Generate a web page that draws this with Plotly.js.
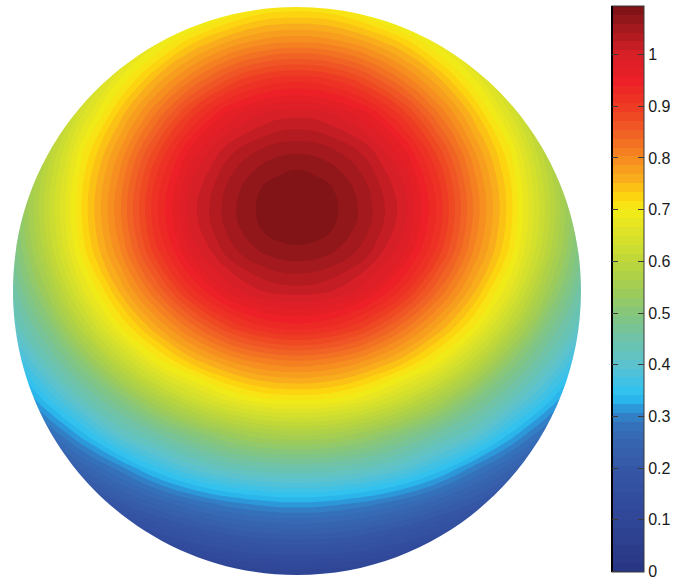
<!DOCTYPE html>
<html>
<head>
<meta charset="utf-8">
<script src="https://cdn.plot.ly/plotly-3.0.1.min.js"></script>
<style>
  html, body { margin: 0; padding: 0; background: #ffffff; }
  #chart { width: 682px; height: 581px; }
</style>
</head>
<body>
<div id="chart"></div>
<script>
// Sample grid on the unit disc (x to the right, y upwards), denser around the maximum.
const gridX = [-1, -0.875, -0.75, -0.625, -0.5, -0.375, -0.25, -0.1875, -0.125, -0.0625, 0,
               0.0625, 0.125, 0.1875, 0.25, 0.375, 0.5, 0.625, 0.75, 0.875, 1];
const gridY = [-1, -0.875, -0.75, -0.625, -0.5, -0.375, -0.25, -0.125, 0, 0.125,
               0.1875, 0.25, 0.3125, 0.375, 0.4375, 0.5, 0.625, 0.75, 0.875, 1];

// Field values, one row per gridY entry (bottom row first).
const fieldZ = [
  [0.000, 0.000, 0.000, 0.009, 0.031, 0.053, 0.070, 0.076, 0.079, 0.083, 0.084, 0.083, 0.079, 0.076, 0.070, 0.053, 0.031, 0.009, 0.000, 0.000, 0.000],
  [0.000, 0.016, 0.052, 0.091, 0.130, 0.162, 0.186, 0.195, 0.201, 0.204, 0.205, 0.204, 0.201, 0.195, 0.186, 0.162, 0.130, 0.091, 0.052, 0.016, 0.000],
  [0.040, 0.091, 0.148, 0.200, 0.239, 0.272, 0.297, 0.305, 0.312, 0.317, 0.318, 0.317, 0.312, 0.305, 0.297, 0.272, 0.239, 0.200, 0.148, 0.091, 0.040],
  [0.117, 0.187, 0.245, 0.298, 0.352, 0.395, 0.423, 0.432, 0.438, 0.442, 0.443, 0.442, 0.438, 0.432, 0.423, 0.395, 0.352, 0.298, 0.245, 0.187, 0.117],
  [0.204, 0.271, 0.342, 0.411, 0.457, 0.501, 0.539, 0.553, 0.564, 0.570, 0.572, 0.570, 0.564, 0.553, 0.539, 0.501, 0.457, 0.411, 0.342, 0.271, 0.204],
  [0.275, 0.360, 0.435, 0.499, 0.570, 0.630, 0.676, 0.692, 0.703, 0.709, 0.710, 0.709, 0.703, 0.692, 0.676, 0.630, 0.570, 0.499, 0.435, 0.360, 0.275],
  [0.347, 0.435, 0.513, 0.604, 0.686, 0.739, 0.780, 0.796, 0.807, 0.814, 0.817, 0.814, 0.807, 0.796, 0.780, 0.739, 0.686, 0.604, 0.513, 0.435, 0.347],
  [0.411, 0.495, 0.599, 0.698, 0.765, 0.829, 0.886, 0.906, 0.921, 0.930, 0.933, 0.930, 0.921, 0.906, 0.886, 0.829, 0.765, 0.698, 0.599, 0.495, 0.411],
  [0.449, 0.553, 0.666, 0.754, 0.835, 0.916, 0.975, 0.995, 1.008, 1.016, 1.018, 1.016, 1.008, 0.995, 0.975, 0.916, 0.835, 0.754, 0.666, 0.553, 0.449],
  [0.479, 0.594, 0.709, 0.796, 0.891, 0.973, 1.026, 1.044, 1.057, 1.065, 1.068, 1.065, 1.057, 1.044, 1.026, 0.973, 0.891, 0.796, 0.709, 0.594, 0.479],
  [0.488, 0.606, 0.719, 0.808, 0.907, 0.989, 1.040, 1.058, 1.074, 1.080, 1.083, 1.080, 1.074, 1.058, 1.040, 0.989, 0.907, 0.808, 0.719, 0.606, 0.488],
  [0.492, 0.612, 0.724, 0.815, 0.915, 0.998, 1.048, 1.067, 1.080, 1.089, 1.091, 1.089, 1.080, 1.067, 1.048, 0.998, 0.915, 0.815, 0.724, 0.612, 0.492],
  [0.493, 0.613, 0.725, 0.816, 0.916, 0.999, 1.048, 1.067, 1.081, 1.089, 1.092, 1.089, 1.081, 1.067, 1.048, 0.999, 0.916, 0.816, 0.725, 0.613, 0.493],
  [0.489, 0.608, 0.721, 0.810, 0.909, 0.992, 1.042, 1.061, 1.076, 1.083, 1.086, 1.083, 1.076, 1.061, 1.042, 0.992, 0.909, 0.810, 0.721, 0.608, 0.489],
  [0.482, 0.598, 0.712, 0.800, 0.896, 0.978, 1.031, 1.049, 1.062, 1.071, 1.075, 1.071, 1.062, 1.049, 1.031, 0.978, 0.896, 0.800, 0.712, 0.598, 0.482],
  [0.471, 0.583, 0.700, 0.784, 0.876, 0.959, 1.014, 1.031, 1.043, 1.052, 1.054, 1.052, 1.043, 1.031, 1.014, 0.959, 0.876, 0.784, 0.700, 0.583, 0.471],
  [0.441, 0.539, 0.651, 0.741, 0.819, 0.896, 0.957, 0.976, 0.990, 1.000, 1.002, 1.000, 0.990, 0.976, 0.957, 0.896, 0.819, 0.741, 0.651, 0.539, 0.441],
  [0.401, 0.485, 0.585, 0.682, 0.752, 0.813, 0.866, 0.887, 0.901, 0.910, 0.913, 0.910, 0.901, 0.887, 0.866, 0.813, 0.752, 0.682, 0.585, 0.485, 0.401],
  [0.339, 0.428, 0.504, 0.593, 0.674, 0.730, 0.769, 0.784, 0.795, 0.802, 0.804, 0.802, 0.795, 0.784, 0.769, 0.730, 0.674, 0.593, 0.504, 0.428, 0.339],
  [0.271, 0.356, 0.431, 0.495, 0.565, 0.625, 0.670, 0.687, 0.699, 0.704, 0.706, 0.704, 0.699, 0.687, 0.670, 0.625, 0.565, 0.495, 0.431, 0.356, 0.271]
];

// Colour bar ticks.
const tickValues = [0, 0.1, 0.2, 0.3, 0.4, 0.5, 0.6, 0.7, 0.8, 0.9, 1];
const tickLabels = ["0", "0.1", "0.2", "0.3", "0.4", "0.5", "0.6", "0.7", "0.8", "0.9", "1"];

// Colour scale range and stops (value, colour).
const zMin = -0.001;
const zMax = 1.094;
const stopValues = [0.00, 0.05, 0.10, 0.15, 0.20, 0.25, 0.29, 0.31, 0.33, 0.35,
                    0.40, 0.45, 0.50, 0.55, 0.60, 0.65, 0.70, 0.73, 0.76, 0.80,
                    0.85, 0.90, 0.95, 1.00, 1.03, 1.06, 1.094];
const stopColors = ["#283583", "#2c3d8d", "#304696", "#334e9f", "#3557a6", "#3665b0", "#3574bd", "#2e8ed3", "#29b4ea", "#33c1ee",
                    "#5cc3cf", "#6fc3a8", "#86c67c", "#a3cd52", "#bed63a", "#dae22a", "#f6eb16", "#fdd10f", "#f9ad1c", "#f58a21",
                    "#f15f25", "#ee3a24", "#ec1f26", "#d71f27", "#b81c21", "#9a181c", "#7a1315"];

const colorscale = stopValues.map((v, i) => [Math.max(0, (v - zMin) / (zMax - zMin)), stopColors[i]]);
colorscale[0][0] = 0;

// Layout geometry (pixels).
const W = 682, H = 581;
const plotLeft = 13, plotTop = 7, plotSize = 568;
const barLeft = 612, barThick = 32, barTop = 6, barBottom = 572;
const tickLen = 6;
const levelCount = 64;
const axisColor = '#3a3a3a';

const contourLevels = { start: zMin, end: zMax, size: (zMax - zMin) / levelCount, coloring: 'fill', showlines: false };

const colorbarCommon = {
  xanchor: 'left',
  xpad: 0,
  y: (plotTop + plotSize - barBottom) / plotSize,
  yanchor: 'bottom',
  ypad: 0,
  len: barBottom - barTop,
  lenmode: 'pixels',
  thicknessmode: 'pixels',
  tickmode: 'array',
  tickvals: tickValues,
  ticktext: tickLabels,
  ticklen: tickLen,
  tickwidth: 1,
  tickcolor: axisColor
};

// The field itself, with the main colour bar (ticks on its right edge).
const field = {
  type: 'contour',
  x: gridX,
  y: gridY,
  z: fieldZ,
  zmin: zMin,
  zmax: zMax,
  autocontour: false,
  contours: contourLevels,
  line: { width: 0, smoothing: 1.3 },
  colorscale: colorscale,
  hoverinfo: 'skip',
  colorbar: Object.assign({}, colorbarCommon, {
    x: (barLeft - plotLeft) / plotSize,
    thickness: barThick,
    outlinewidth: 1,
    outlinecolor: axisColor,
    ticks: 'inside',
    ticklabeloverflow: 'allow',
    tickfont: { family: 'Liberation Sans, Arial, sans-serif', size: 16, color: '#1a1a1a' }
  })
};

// Same field in a transparent colour scale: its hairline colour bar sits just left
// of the main bar and supplies the matching inward ticks on the bar's left edge.
const leftTicks = {
  type: 'contour',
  x: gridX,
  y: gridY,
  z: fieldZ,
  zmin: zMin,
  zmax: zMax,
  autocontour: false,
  contours: contourLevels,
  line: { width: 0, smoothing: 1.3 },
  colorscale: [[0, 'rgba(0,0,0,0)'], [1, 'rgba(0,0,0,0)']],
  hoverinfo: 'skip',
  colorbar: Object.assign({}, colorbarCommon, {
    x: (barLeft - 1 - plotLeft) / plotSize,
    thickness: 1,
    outlinewidth: 0,
    ticks: 'outside',
    showticklabels: false
  })
};

// Unit circle as cubic Béziers, cut out of a white frame so only the disc shows.
const k = 0.5523;
const discPath =
  'M -1.1,-1.1 L 1.1,-1.1 L 1.1,1.1 L -1.1,1.1 Z ' +
  'M 1,0 C 1,' + k + ' ' + k + ',1 0,1 ' +
  'C ' + (-k) + ',1 -1,' + k + ' -1,0 ' +
  'C -1,' + (-k) + ' ' + (-k) + ',-1 0,-1 ' +
  'C ' + k + ',-1 1,' + (-k) + ' 1,0 Z';

const layout = {
  width: W,
  height: H,
  margin: { l: plotLeft, r: W - plotLeft - plotSize, t: plotTop, b: H - plotTop - plotSize, autoexpand: false },
  paper_bgcolor: '#ffffff',
  plot_bgcolor: '#ffffff',
  showlegend: false,
  xaxis: { range: [-1, 1], visible: false, fixedrange: true },
  yaxis: { range: [-1, 1], visible: false, fixedrange: true },
  shapes: [{
    type: 'path',
    xref: 'x', yref: 'y',
    path: discPath,
    fillcolor: '#ffffff',
    fillrule: 'evenodd',
    line: { width: 0 },
    layer: 'above'
  }]
};

Plotly.newPlot('chart', [field, leftTicks], layout, { displayModeBar: false, staticPlot: true });
</script>
</body>
</html>
